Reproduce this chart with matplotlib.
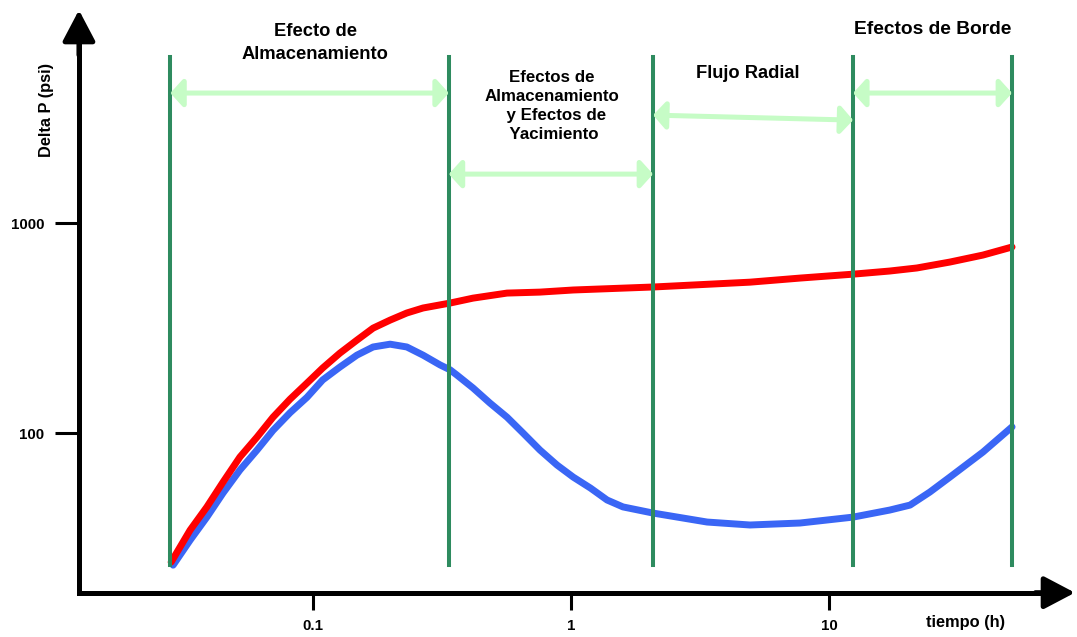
import numpy as np
import matplotlib.pyplot as plt
from matplotlib.ticker import FixedLocator, FixedFormatter, NullLocator

plt.rcParams['font.family'] = ['Liberation Sans', 'DejaVu Sans']
plt.rcParams['font.weight'] = 'bold'

# tiempo (h) and Delta P (psi) for the two curves
t_red = [0.0282, 0.0334, 0.0388, 0.0448, 0.0521, 0.0607, 0.0700, 0.0815, 0.0948, 0.109,
         0.127, 0.148, 0.171, 0.199, 0.231, 0.267, 0.340, 0.417, 0.565, 0.758,
         1.02, 2.08, 4.94, 7.72, 12.4, 17.2, 21.9, 29.4, 39.5, 51.2]
dp_red = [24.3, 34.5, 44.5, 58.4, 76.9, 95.7, 119, 145, 173, 204,
          240, 277, 316, 345, 373, 394, 416, 439, 464, 469,
          480, 496, 523, 547, 571, 591, 611, 652, 704, 769]

t_blue = [0.0287, 0.0334, 0.0388, 0.0448, 0.0521, 0.0607, 0.0700, 0.0815, 0.0948, 0.109,
          0.127, 0.148, 0.171, 0.199, 0.231, 0.267, 0.311, 0.340, 0.361, 0.417,
          0.485, 0.565, 0.652, 0.758, 0.883, 1.02, 1.19, 1.38, 1.59, 2.08,
          3.37, 4.94, 7.72, 12.4, 17.2, 20.6, 24.6, 29.4, 39.5, 51.2]
dp_blue = [23.5, 30.9, 39.8, 51.8, 66.7, 83.0, 103, 125, 148, 179,
           206, 235, 257, 265, 257, 235, 211, 200, 189, 164,
           139, 119, 100, 83.0, 70.4, 61.7, 54.7, 48.0, 44.5, 41.6,
           37.7, 36.5, 37.3, 39.8, 43.0, 45.4, 52.4, 61.7, 81.2, 107]

# flow regime boundaries (h)
limites = [0.028, 0.336, 2.08, 12.4, 51.2]

x_ticks = [0.1, 1, 10]
x_labels = ['0.1', '1', '10']
y_ticks = [100, 1000]
y_labels = ['100', '1000']

fig = plt.figure(figsize=(10.77, 6.37), dpi=100)
ax = fig.add_axes([0, 0, 1, 1])
ax.set_xscale('log')
ax.set_yscale('log')
ax.set_xlim(10 ** -2.213, 10 ** 1.961)
ax.set_ylim(10 ** 1.029, 10 ** 4.062)
ax.patch.set_alpha(0)

x0 = 10 ** -1.907   # where the y axis sits
y0 = 10 ** 1.24     # where the x axis sits
x_end = 10 ** 1.953
y_end = 10 ** 4.014

for side in ['top', 'right']:
    ax.spines[side].set_visible(False)
ax.spines['left'].set_position(('data', x0))
ax.spines['bottom'].set_position(('data', y0))
ax.spines['left'].set_bounds(y0, 10 ** 3.9)
ax.spines['bottom'].set_bounds(x0, 10 ** 1.86)
for side in ['left', 'bottom']:
    ax.spines[side].set_linewidth(3.6)
    ax.spines[side].set_capstyle('projecting')

ax.xaxis.set_major_locator(FixedLocator(x_ticks))
ax.xaxis.set_major_formatter(FixedFormatter(x_labels))
ax.yaxis.set_major_locator(FixedLocator(y_ticks))
ax.yaxis.set_major_formatter(FixedFormatter(y_labels))
ax.xaxis.set_minor_locator(NullLocator())
ax.yaxis.set_minor_locator(NullLocator())
ax.tick_params(axis='x', direction='out', length=12, width=2.2, pad=7, labelsize=10.8)
ax.tick_params(axis='y', direction='out', length=17, width=2.2, pad=8, labelsize=10.8)

# arrow heads on the axes
ax.annotate('', xy=(x0, y_end), xytext=(x0, 10 ** 3.8),
            arrowprops=dict(arrowstyle='-|>,head_length=0.95,head_width=0.5',
                            mutation_scale=20, lw=3.6, color='black',
                            shrinkA=0, shrinkB=0))
ax.annotate('', xy=(x_end, y0), xytext=(10 ** 1.8, y0),
            arrowprops=dict(arrowstyle='-|>,head_length=0.95,head_width=0.5',
                            mutation_scale=20, lw=3.6, color='black',
                            shrinkA=0, shrinkB=0))

# curves
ax.plot(t_blue, dp_blue, color='#3a66f5', lw=5, solid_capstyle='round',
        solid_joinstyle='round', zorder=3)
ax.plot(t_red, dp_red, color='#ff0000', lw=5, solid_capstyle='round',
        solid_joinstyle='round', zorder=4)

# regime boundaries
for t in limites:
    ax.plot([t, t], [23.5, 6166], color='#2e8b5f', lw=2.9, zorder=5)

# regime arrows
verde = '#c6fcc6'
flechas = [(limites[0], limites[1], 4159, 4159),
           (limites[1], limites[2], 1710, 1710),
           (limites[2], limites[3], 3266, 3091),
           (limites[3], limites[4], 4159, 4159)]
for xa, xb, ya, yb in flechas:
    ax.annotate('', xy=(xb, yb), xytext=(xa, ya),
                arrowprops=dict(arrowstyle='<|-|>,head_length=0.38,head_width=0.42',
                                mutation_scale=20, lw=3.6, color=verde,
                                shrinkA=0, shrinkB=0), zorder=6)

W, H = 1077, 637
def etiqueta(px, py, texto, size, **kw):
    ax.text(px / W, 1 - py / H, texto, transform=ax.transAxes, fontsize=size,
            fontweight='bold', ha='center', va='center', **kw)

etiqueta(315, 43, 'Efecto de\nAlmacenamiento', 13.2, linespacing=1.4)
etiqueta(552, 106, 'Efectos de\nAlmacenamiento\n  y Efectos de\n Yacimiento', 12.2,
         linespacing=1.35)
etiqueta(748, 74, 'Flujo Radial', 13.2)
etiqueta(933, 30, 'Efectos de Borde', 13.8)
etiqueta(966, 622, 'tiempo (h)', 11.8)
etiqueta(46, 110, 'Delta P (psi)', 11.8, rotation=90)

fig.savefig('out.png', dpi=100)
